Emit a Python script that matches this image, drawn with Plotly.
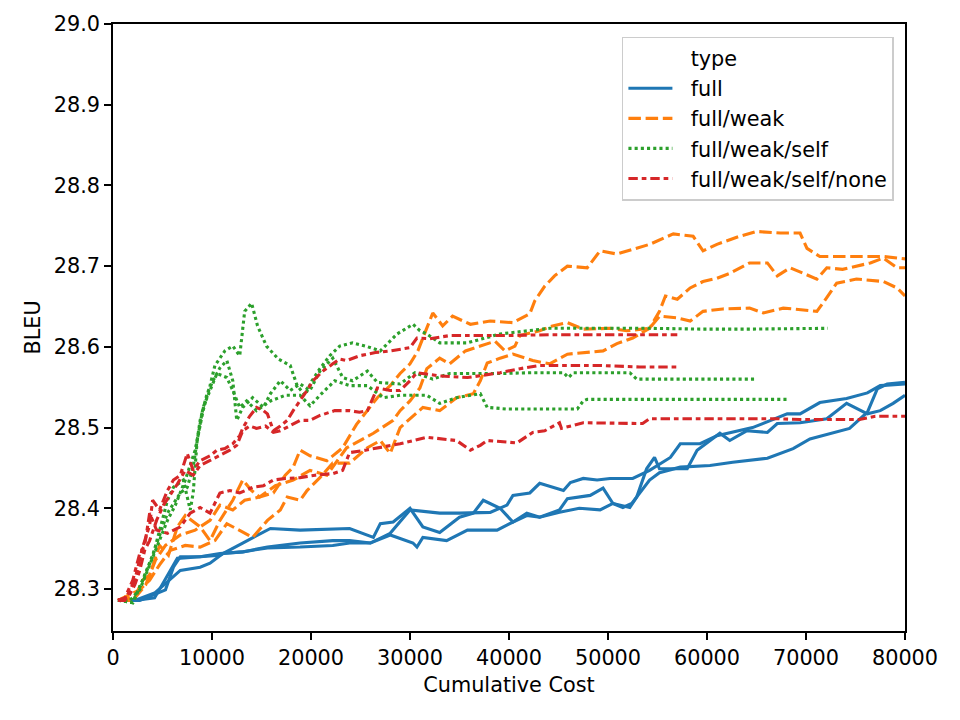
import plotly.graph_objects as go

# ---------------- data ----------------
types = ["full", "full/weak", "full/weak/self", "full/weak/self/none"]
colors = ["#1f77b4", "#ff7f0e", "#2ca02c", "#d62728"]

# full
full_1_x = [500,2200,4200,6500,8800,10800,13100,15900,18900,23900,26300,27000,28300,30000,31300,33000,35000,36400,37400,39100,40400,41800,43100,45100,45900,48200,49500,50500,52200,52900,53900,54700,55200,58000,59000,60000,61300,62300,64000,66100,67100,69400,72100,74100,76200,77500,78800,80000]
full_1_y = [28.286,28.286,28.289,28.338,28.340,28.342,28.357,28.375,28.373,28.375,28.364,28.381,28.383,28.400,28.377,28.370,28.389,28.394,28.410,28.400,28.383,28.394,28.389,28.398,28.412,28.416,28.425,28.406,28.401,28.414,28.449,28.463,28.449,28.449,28.472,28.481,28.493,28.484,28.496,28.494,28.505,28.506,28.511,28.530,28.517,28.521,28.530,28.540]
full_2_x = [500,2200,4200,6800,8800,9800,11100,13100,15600,18900,22200,23900,26000,28000,30000,33000,35000,38100,39800,40400,42100,43100,45500,46200,47500,48900,50200,52500,54200,56300,57300,59300,61000,63300,64600,68100,69400,71400,74100,76200,77500,80000]
full_2_y = [28.286,28.286,28.295,28.323,28.327,28.332,28.344,28.346,28.352,28.357,28.360,28.360,28.357,28.369,28.398,28.394,28.394,28.395,28.404,28.416,28.419,28.431,28.422,28.432,28.437,28.435,28.437,28.437,28.447,28.463,28.480,28.480,28.490,28.496,28.500,28.517,28.517,28.531,28.536,28.543,28.552,28.554]
full_3_x = [500,2700,5300,6100,6800,8800,10800,13100,15600,18900,22200,23900,26000,28000,30300,30700,31300,33700,35800,38800,40400,41800,43100,45100,47100,49200,50500,51500,52400,53200,54200,55200,57300,60300,62600,66100,68700,70400,72700,74400,76200,77200,78200,80000]
full_3_y = [28.286,28.286,28.299,28.327,28.340,28.340,28.344,28.346,28.351,28.352,28.354,28.357,28.357,28.367,28.357,28.352,28.364,28.360,28.373,28.373,28.383,28.391,28.389,28.395,28.400,28.398,28.406,28.401,28.406,28.419,28.435,28.444,28.451,28.453,28.457,28.462,28.474,28.486,28.493,28.499,28.519,28.548,28.554,28.556]

# full/weak
weak_1_x = [500,2200,3000,3700,4700,5600,6500,7300,8800,9800,10800,12100,13100,14000,14800,16200,17400,18200,18900,19900,21600,23200,24600,26000,26700,28000,29000,30000,30800,31300,32300,33300,34300,36100,38100,40400,42100,42600,43600,44600,45900,47900,49200,50900,52700,54200,56600,58600,59600,61000,63300,65000,67400,69400,70100,71400,74400,77800,80000]
weak_1_y = [28.286,28.290,28.311,28.317,28.354,28.342,28.377,28.391,28.377,28.360,28.385,28.410,28.435,28.422,28.414,28.419,28.441,28.451,28.472,28.465,28.459,28.475,28.504,28.527,28.537,28.552,28.567,28.579,28.595,28.611,28.642,28.626,28.638,28.628,28.632,28.630,28.641,28.657,28.675,28.688,28.700,28.698,28.719,28.715,28.722,28.727,28.740,28.737,28.719,28.727,28.737,28.743,28.741,28.741,28.722,28.712,28.712,28.712,28.709]
weak_2_x = [500,2700,3700,4700,5800,7300,8800,10300,11500,12800,14100,15600,16900,17600,18900,19600,20900,22200,23900,25700,27000,28000,29000,31300,33000,34700,36400,37100,37800,39100,40400,42400,44100,45900,47500,49500,50900,52500,54200,55200,55800,57000,58300,59600,61000,62300,64300,66100,67100,68400,71100,72100,73700,76500,77800,79200,80000]
weak_2_y = [28.286,28.299,28.311,28.330,28.348,28.354,28.352,28.360,28.381,28.373,28.364,28.385,28.398,28.414,28.410,28.422,28.438,28.456,28.456,28.475,28.484,28.468,28.500,28.525,28.521,28.537,28.542,28.558,28.580,28.586,28.591,28.583,28.579,28.591,28.593,28.595,28.604,28.611,28.623,28.644,28.663,28.659,28.673,28.681,28.685,28.691,28.704,28.704,28.688,28.698,28.684,28.698,28.696,28.704,28.710,28.698,28.698]
weak_3_x = [500,2000,3300,4300,5300,6800,8300,9800,10800,12100,13300,14800,16400,18200,19900,21600,23600,24900,26300,28300,29000,30000,31000,31700,33000,34000,35600,37100,38600,39600,40600,41100,43100,44400,45900,47500,50200,51900,54200,55200,57000,58300,59600,61600,64300,65700,67700,68700,71100,71700,73100,75100,77800,79200,80000]
weak_3_y = [28.286,28.286,28.305,28.336,28.354,28.367,28.373,28.385,28.404,28.398,28.410,28.414,28.428,28.435,28.447,28.441,28.475,28.484,28.493,28.509,28.521,28.533,28.549,28.573,28.586,28.579,28.595,28.601,28.607,28.595,28.601,28.614,28.620,28.626,28.630,28.622,28.623,28.620,28.623,28.638,28.636,28.632,28.644,28.647,28.648,28.642,28.648,28.647,28.644,28.654,28.679,28.684,28.681,28.673,28.663]

# full/weak/self
self_1_x = [500,1700,2700,3700,4700,5500,6300,7300,8300,9100,9800,10300,11300,12100,12800,13300,14000,14600,15500,16700,17900,18600,19400,20100,20900,21900,22900,24200,25500,27000,28700,30300,31000,31700,33000,35800,39100,44100,49200,54200,59300,64300,72200]
self_1_y = [28.286,28.286,28.299,28.330,28.360,28.385,28.404,28.435,28.472,28.521,28.552,28.577,28.595,28.601,28.589,28.644,28.654,28.626,28.601,28.585,28.577,28.552,28.540,28.558,28.573,28.589,28.601,28.605,28.601,28.595,28.616,28.628,28.620,28.616,28.605,28.605,28.616,28.623,28.623,28.623,28.622,28.622,28.623]
self_2_x = [500,2000,3000,4000,5500,6800,7500,8100,8800,9500,10100,10800,11500,12100,12500,13100,14100,15200,15900,16900,17900,18900,19900,20900,22200,23200,24200,25700,26700,29000,30500,32300,34000,39100,42400,44100,45500,46000,46500,52200,52900,65000]
self_2_y = [28.286,28.283,28.311,28.342,28.394,28.419,28.426,28.451,28.509,28.542,28.558,28.574,28.583,28.558,28.509,28.525,28.537,28.525,28.542,28.558,28.546,28.554,28.546,28.570,28.586,28.562,28.558,28.570,28.556,28.554,28.568,28.560,28.567,28.567,28.568,28.568,28.568,28.562,28.568,28.568,28.560,28.560]
self_3_x = [500,2000,3000,4000,4800,5500,6100,7100,7800,8100,8500,9100,9800,10500,11500,12100,12800,13500,14500,15900,17400,18900,19900,20900,22400,23900,25700,27300,29000,31700,33000,34700,37100,37800,39800,42400,46900,47500,47900,68100]
self_3_y = [28.286,28.283,28.311,28.340,28.377,28.410,28.426,28.435,28.398,28.419,28.484,28.525,28.546,28.567,28.562,28.546,28.525,28.533,28.521,28.533,28.540,28.540,28.527,28.540,28.558,28.552,28.552,28.537,28.540,28.540,28.530,28.537,28.542,28.525,28.523,28.523,28.523,28.533,28.535,28.535]

# full/weak/self/none
none_1_x = [500,1200,2200,3000,3700,4000,4700,5500,6100,6800,7500,8100,8800,9800,10500,11300,12100,12800,13100,13800,14500,15200,15600,16200,16900,17600,18200,18900,19600,20200,21200,22200,22900,23600,24900,26500,28000,30000,30700,32000,34000,39100,44100,49200,54200,57000]
none_1_y = [28.286,28.286,28.311,28.352,28.379,28.410,28.398,28.422,28.435,28.441,28.468,28.447,28.459,28.465,28.472,28.474,28.480,28.490,28.499,28.514,28.525,28.521,28.517,28.496,28.502,28.509,28.521,28.533,28.546,28.558,28.570,28.579,28.585,28.583,28.589,28.593,28.595,28.599,28.611,28.610,28.614,28.614,28.615,28.615,28.615,28.615]
none_2_x = [500,1500,2200,2700,3200,3700,4400,5100,5800,6500,7300,8100,8800,9800,10800,11800,12500,13100,13800,14500,15400,16200,16900,17900,18900,19900,20900,22400,23900,24900,25700,26700,28000,29000,30000,30700,33000,35800,39100,41100,43100,49200,53200,57000]
none_2_y = [28.286,28.289,28.305,28.323,28.348,28.360,28.385,28.404,28.417,28.430,28.447,28.441,28.453,28.459,28.465,28.472,28.478,28.496,28.502,28.499,28.502,28.494,28.496,28.502,28.509,28.509,28.515,28.521,28.521,28.519,28.521,28.549,28.546,28.546,28.558,28.568,28.564,28.562,28.568,28.573,28.577,28.577,28.575,28.575]
none_3_x = [500,1200,2000,2700,3200,3700,4400,5500,6800,7800,8800,9800,10800,11800,12800,14100,15200,16200,17400,18900,20400,22200,23200,23900,25500,26700,29000,31700,33000,34700,36100,37100,37800,40800,42400,43600,45100,45300,47500,51200,53500,54200,59300,67100,69400,75400,77000,80000]
none_3_y = [28.286,28.289,28.311,28.344,28.354,28.394,28.373,28.369,28.377,28.394,28.401,28.394,28.419,28.422,28.419,28.426,28.428,28.435,28.437,28.438,28.441,28.443,28.447,28.469,28.472,28.475,28.480,28.488,28.486,28.484,28.472,28.478,28.484,28.481,28.494,28.496,28.506,28.499,28.506,28.505,28.505,28.511,28.511,28.511,28.510,28.510,28.514,28.514]

x_ticks = [0, 10000, 20000, 30000, 40000, 50000, 60000, 70000, 80000]
x_tick_text = ["0", "10000", "20000", "30000", "40000", "50000", "60000", "70000", "80000"]
y_ticks = [28.3, 28.4, 28.5, 28.6, 28.7, 28.8, 28.9, 29.0]
y_tick_text = ["28.3", "28.4", "28.5", "28.6", "28.7", "28.8", "28.9", "29.0"]

runs = {
    "full": [(full_1_x, full_1_y), (full_2_x, full_2_y), (full_3_x, full_3_y)],
    "full/weak": [(weak_1_x, weak_1_y), (weak_2_x, weak_2_y), (weak_3_x, weak_3_y)],
    "full/weak/self": [(self_1_x, self_1_y), (self_2_x, self_2_y), (self_3_x, self_3_y)],
    "full/weak/self/none": [(none_1_x, none_1_y), (none_2_x, none_2_y), (none_3_x, none_3_y)],
}
# seaborn default dashes scaled by line width (1.5pt at 150 dpi)
dashes = ["solid", "12.5px,4.7px", "3.1px,3.1px", "9.4px,3.9px,4.7px,3.9px"]

FONT = "DejaVu Sans"
FS = 20.8
LW = 3.1
PAD = "\u00a0\u00a0"   # gap between legend handle and label, as in matplotlib
fig = go.Figure()

# legend title entry (as in seaborn, "type" is an entry with no handle)
fig.add_trace(go.Scatter(x=[None], y=[None], mode="lines", name=PAD + "type",
                         line=dict(color="rgba(0,0,0,0)", width=LW),
                         legendgroup="type", showlegend=True, hoverinfo="skip"))

for t, c, d in zip(types, colors, dashes):
    for i, (xs, ys) in enumerate(runs[t]):
        fig.add_trace(go.Scatter(
            x=xs, y=ys, mode="lines", name=PAD + t, legendgroup=t,
            showlegend=(i == 0),
            line=dict(color=c, width=LW, dash=d),
        ))

fig.update_layout(
    width=960, height=720,
    margin=dict(l=113, r=55, t=22, b=89),
    paper_bgcolor="white", plot_bgcolor="white",
    font=dict(family=FONT, size=FS, color="black"),
    legend=dict(
        x=0.986, y=0.979, xanchor="right", yanchor="top",
        bgcolor="rgba(255,255,255,0.8)", bordercolor="#cccccc", borderwidth=1.5,
        font=dict(family=FONT, size=FS, color="black"),
        tracegroupgap=0, itemwidth=44,
    ),
)
fig.update_xaxes(
    range=[0, 80000], tickvals=x_ticks, ticktext=x_tick_text,
    showline=True, mirror=True, linecolor="black", linewidth=1.67,
    ticks="outside", ticklen=7, tickwidth=1.67, tickcolor="black",
    showgrid=False, zeroline=False,
    tickfont=dict(family=FONT, size=FS, color="black"),
    title=dict(text="Cumulative Cost", font=dict(family=FONT, size=FS, color="black"), standoff=9),
)
fig.update_yaxes(
    range=[28.248, 29.0], tickvals=y_ticks, ticktext=y_tick_text,
    showline=True, mirror=True, linecolor="black", linewidth=1.67,
    ticks="outside", ticklen=7, tickwidth=1.67, tickcolor="black",
    showgrid=False, zeroline=False,
    tickfont=dict(family=FONT, size=FS, color="black"),
    title=dict(text="BLEU", font=dict(family=FONT, size=FS, color="black"), standoff=7),
)

fig.write_html("out.html")
